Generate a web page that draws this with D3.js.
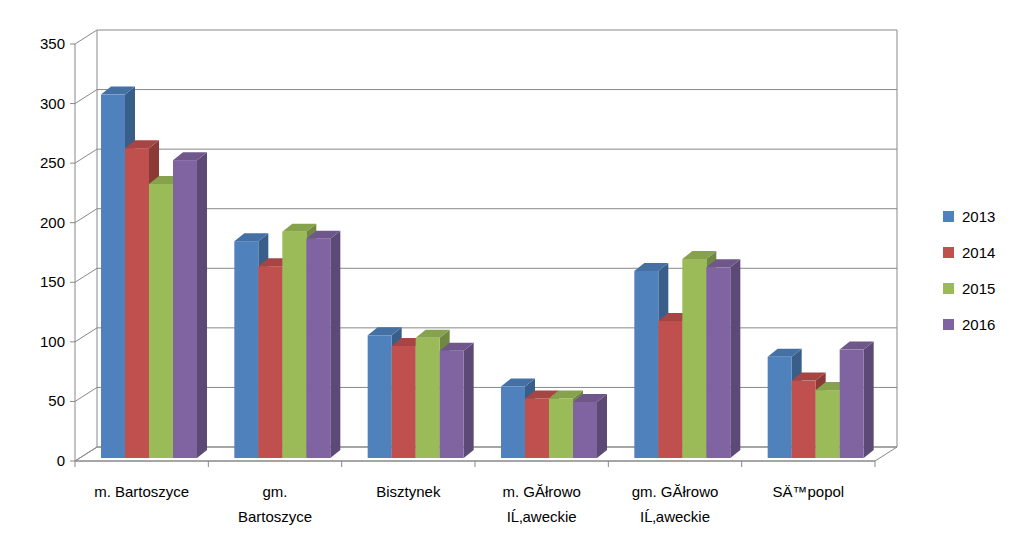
<!DOCTYPE html><html><head><script src="https://cdn.jsdelivr.net/npm/d3@7"></script>
<style>body{margin:0;background:#fff}text{font-family:"Liberation Sans",Arial,sans-serif;font-size:15px;fill:#000}</style></head><body>
<svg id="c" width="1024" height="544"></svg>
<script>
const categories=[["m. Bartoszyce"],["gm.","Bartoszyce"],["Bisztynek"],["m. Górowo","Iławeckie"],["gm. Górowo","Iławeckie"],["Sępopol"]];
const years=["2013","2014","2015","2016"];
const v2013=[305,182,103,60,157,85];
const v2014=[260,161,94,50,115,65];
const v2015=[230,190,101,50,167,57];
const v2016=[250,184,90,47,160,91];
const series=[v2013,v2014,v2015,v2016];
const ticks=[0,50,100,150,200,250,300,350];
const colors=["#4F81BD","#C0504D","#9BBB59","#8064A2"];
const svg=d3.select("#c");
const DX=22,DY=-14,x0=75,x1=875;
const y=d3.scaleLinear().domain([0,350]).range([461,44]);
const xb=d3.scaleBand().domain(d3.range(6)).range([x0,x1]);
const xi=d3.scaleBand().domain(d3.range(4)).range([0,96]);
const g=svg.append("g");
// floor
g.append("path").attr("d",`M${x0},461L${x1},461L${x1+DX},${461+DY}L${x0+DX},${461+DY}Z`).attr("fill","#fff").attr("stroke","#888");
// grid
ticks.forEach(t=>{const yy=y(t);
 g.append("path").attr("d",`M${x0},${yy}L${x0+DX},${yy+DY}L${x1+DX},${yy+DY}`).attr("fill","none").attr("stroke","#888");});
g.append("line").attr("x1",x0+DX).attr("x2",x0+DX).attr("y1",y(350)+DY).attr("y2",461+DY).attr("stroke","#888");
g.append("line").attr("x1",x1+DX).attr("x2",x1+DX).attr("y1",y(350)+DY).attr("y2",461+DY).attr("stroke","#888");
// front axis
g.append("line").attr("x1",x0).attr("x2",x0).attr("y1",y(350)).attr("y2",461).attr("stroke","#888");
g.append("line").attr("x1",x0).attr("x2",x1).attr("y1",461).attr("y2",461).attr("stroke","#888");
ticks.forEach(t=>{g.append("line").attr("x1",x0-5).attr("x2",x0).attr("y1",y(t)).attr("y2",y(t)).attr("stroke","#888");
 g.append("text").attr("x",x0-10).attr("y",y(t)+5).attr("text-anchor","end").text(t);});
d3.range(7).forEach(i=>{const xx=x0+i*xb.bandwidth();g.append("line").attr("x1",xx).attr("x2",xx).attr("y1",461).attr("y2",467).attr("stroke","#888");});
// bars
const bw=24,dx=10,dy=-8,base=458;
categories.forEach((c,ci)=>{series.forEach((s,si)=>{
 const bx=xb(ci)+26+xi(si), top=y(s[ci])+(base-461), col=d3.color(colors[si]);
 g.append("path").attr("d",`M${bx+bw},${top}L${bx+bw+dx},${top+dy}L${bx+bw+dx},${base+dy}L${bx+bw},${base}Z`).attr("fill",col.darker(0.9));
 g.append("path").attr("d",`M${bx},${top}L${bx+dx},${top+dy}L${bx+bw+dx},${top+dy}L${bx+bw},${top}Z`).attr("fill",col.darker(0.4));
 g.append("rect").attr("x",bx).attr("y",top).attr("width",bw).attr("height",base-top).attr("fill",colors[si]);
});
 const t=g.append("text").attr("text-anchor","middle");
 c.forEach((l,li)=>t.append("tspan").attr("x",xb(ci)+xb.bandwidth()/2).attr("y",497+li*25).text(l));
});
years.forEach((yr,i)=>{g.append("rect").attr("x",943).attr("y",211+i*36).attr("width",11).attr("height",11).attr("fill",colors[i]);
 g.append("text").attr("x",962).attr("y",222+i*36).text(yr);});
</script></body></html>
